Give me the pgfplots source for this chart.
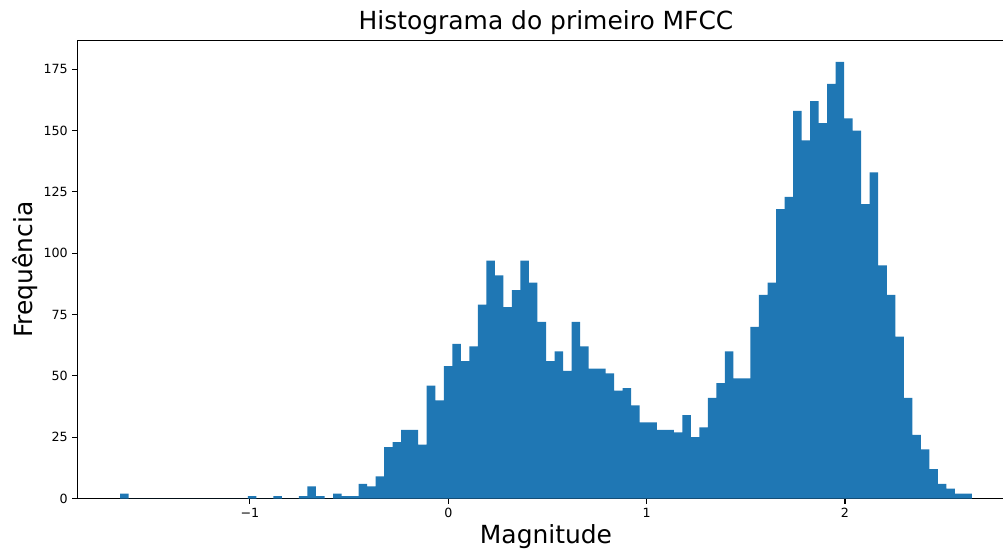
\documentclass[border=0pt]{standalone}
\usepackage{pgfplots}
\pgfplotsset{compat=1.18}
\usepackage{fontspec}
\setmainfont{DejaVu Sans}
\definecolor{mplblue}{HTML}{1F77B4}

% histogram of the first MFCC: left bin edges and counts, last row = right edge
\pgfplotstableread{
edge count
-1.65500 2
-1.61205 0
-1.56910 0
-1.52615 0
-1.48320 0
-1.44025 0
-1.39730 0
-1.35435 0
-1.31140 0
-1.26845 0
-1.22550 0
-1.18255 0
-1.13960 0
-1.09665 0
-1.05370 0
-1.01075 1
-0.96780 0
-0.92485 0
-0.88190 1
-0.83895 0
-0.79600 0
-0.75305 1
-0.71010 5
-0.66715 1
-0.62420 0
-0.58125 2
-0.53830 1
-0.49535 1
-0.45240 6
-0.40945 5
-0.36650 9
-0.32355 21
-0.28060 23
-0.23765 28
-0.19470 28
-0.15175 22
-0.10880 46
-0.06585 40
-0.02290 54
0.02005 63
0.06300 56
0.10595 62
0.14890 79
0.19185 97
0.23480 91
0.27775 78
0.32070 85
0.36365 97
0.40660 88
0.44955 72
0.49250 56
0.53545 60
0.57840 52
0.62135 72
0.66430 62
0.70725 53
0.75020 53
0.79315 51
0.83610 44
0.87905 45
0.92200 38
0.96495 31
1.00790 31
1.05085 28
1.09380 28
1.13675 27
1.17970 34
1.22265 25
1.26560 29
1.30855 41
1.35150 47
1.39445 60
1.43740 49
1.48035 49
1.52330 70
1.56625 83
1.60920 88
1.65215 118
1.69510 123
1.73805 158
1.78100 146
1.82395 162
1.86690 153
1.90985 169
1.95280 178
1.99575 155
2.03870 150
2.08165 120
2.12460 133
2.16755 95
2.21050 83
2.25345 66
2.29640 41
2.33935 26
2.38230 20
2.42525 12
2.46820 6
2.51115 4
2.55410 2
2.59705 2
2.64000 2
}\mfcchist

\begin{document}
\begin{tikzpicture}
\begin{axis}[
    scale only axis,
    width=702.9pt, height=343.5pt,
    xmin=-1.870, xmax=2.855,
    ymin=0, ymax=186.7,
    xtick={-1,0,1,2},
    xticklabels={−1,0,1,2},
    ytick={0,25,...,175},
    tick align=outside,
    xtick pos=bottom, ytick pos=left,
    major tick length=3.75pt,
    tick style={black, line width=0.8pt},
    axis line style={line width=0.8pt},
    ticklabel style={font=\fontsize{9.5}{11}\selectfont},
    /pgf/number format/assume math mode=true,
    title={Histograma do primeiro MFCC},
    title style={font=\fontsize{18.7}{22}\selectfont, at={(rel axis cs:0.5,1)}, anchor=base, yshift=2.5pt},
    xlabel={Magnitude},
    xlabel style={font=\fontsize{18.7}{22}\selectfont, at={(rel axis cs:0.5,0)}, anchor=base, yshift=-33.6pt},
    ylabel={Frequência},
    ylabel style={font=\fontsize{18.7}{22}\selectfont, at={(rel axis cs:0,0.5)}, anchor=base, yshift=33.3pt},
]
\addplot[ybar interval, fill=mplblue, draw=none] table[x=edge, y=count] {\mfcchist};
\coordinate (sw) at (rel axis cs:0,0);
\coordinate (ne) at (rel axis cs:1,1);
\end{axis}
\pgfresetboundingbox
\path[use as bounding box] ([xshift=-58.05pt, yshift=-38.25pt]sw) rectangle ([xshift=-8.7pt, yshift=30.4pt]ne);
\end{tikzpicture}
\end{document}
